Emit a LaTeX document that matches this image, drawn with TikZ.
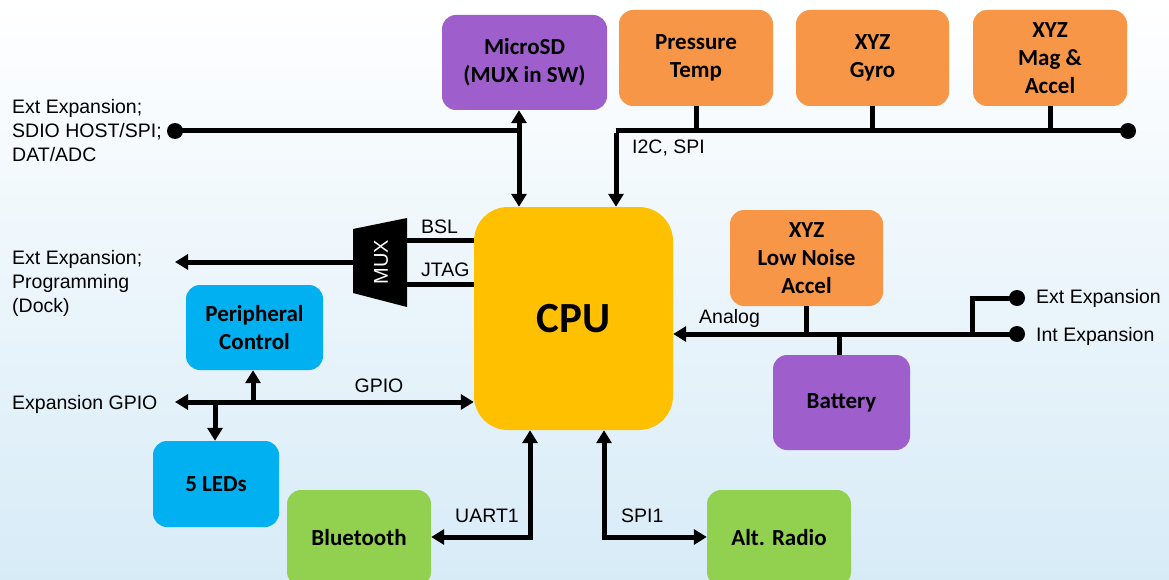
\documentclass[tikz,border=0pt]{standalone}
\usepackage{fontspec}
\setmainfont{Liberation Sans}
\newfontfamily\boxfont{Carlito}
\usetikzlibrary{arrows.meta,calc}
\definecolor{bgb}{HTML}{D7EBF7}
\definecolor{cpuc}{HTML}{FFC000}
\definecolor{orc}{HTML}{F79646}
\definecolor{puc}{HTML}{9E5FCD}
\definecolor{blc}{HTML}{00B0F0}
\definecolor{grc}{HTML}{92D050}
\begin{document}
\begin{tikzpicture}[x=1pt,y=-1pt,
  box/.style={rounded corners=14pt, align=center, inner sep=0pt,
    font=\boxfont\bfseries\fontsize{23}{28}\selectfont},
  wire/.style={line width=5pt},
  tip/.tip={Triangle[length=13pt,width=15pt]},
  arr/.style={wire,-tip},
  both/.style={wire,tip-tip},
  lab/.style={font=\fontsize{19.5}{24}\selectfont, inner sep=0pt, align=left, anchor=west},
  dot/.style={circle, fill=black, minimum size=16pt, inner sep=0pt}]
\clip (0,0) rectangle (1169,580);
\useasboundingbox (0,0) rectangle (1169,580);
\fill[top color=white, bottom color=bgb] (0,0) rectangle (1169,580);

% boxes
\node[box, fill=puc, minimum width=165pt, minimum height=95pt] (sd) at (524.5,62.5) {MicroSD\\(MUX in SW)};
\node[box, fill=orc, minimum width=154pt, minimum height=96pt] (pt) at (696,58) {Pressure\\Temp};
\node[box, fill=orc, minimum width=153pt, minimum height=96pt] (gy) at (872.5,58) {XYZ\\Gyro};
\node[box, fill=orc, minimum width=154pt, minimum height=96pt] (mag) at (1050,58) {XYZ\\Mag \&\\Accel};
\node[box, fill=cpuc, rounded corners=34pt, minimum width=199pt, minimum height=223pt,
  font=\boxfont\bfseries\fontsize{43}{46}\selectfont] (cpu) at (573.5,318.5) {CPU};
\node[box, fill=orc, minimum width=153pt, minimum height=96pt] (lna) at (806.5,258) {XYZ\\Low Noise\\Accel};
\node[box, fill=puc, minimum width=137pt, minimum height=95pt] (bat) at (841.5,402.5) {Battery};
\node[box, fill=blc, minimum width=137pt, minimum height=85pt] (per) at (254.5,327.5) {Peripheral\\Control};
\node[box, fill=blc, minimum width=126pt, minimum height=86pt] (led) at (216,484) {5 LEDs};
\node[box, fill=grc, minimum width=144pt, minimum height=96pt] (bt) at (359,538) {Bluetooth};
\node[box, fill=grc, minimum width=144pt, minimum height=96pt] (ar) at (779,538) {Alt. Radio};

% MUX
\fill (353,229) -- (407,218) -- (407,307) -- (353,293) -- cycle;
\node[rotate=90, text=white, font=\fontsize{20}{22}\selectfont] (mux) at (381,262) {MUX};
\coordinate (muxL) at (353,262);
\coordinate (bslR) at (407,240);
\coordinate (jtgR) at (407,284);
\draw[wire] (bslR) -- (bslR -| cpu.west);
\draw[wire] (jtgR) -- (jtgR -| cpu.west);
\node[lab] (bsl) at (421,227) {BSL};
\node[lab] (jtag) at (421,270) {JTAG};
\node[lab] (extp) at (12,283) {Ext Expansion;\\Programming\\(Dock)};
\coordinate (extpE) at (175,262);
\draw[arr] (muxL) -- (extpE);

% top-left bus & MicroSD
\node[dot] (dl) at (175,131) {};
\node[lab] (exts) at (12,131) {Ext Expansion;\\SDIO HOST/SPI;\\DAT/ADC};
\coordinate (sdj) at (519,131);
\draw[wire] (dl.center) -- (sdj);
\draw[both] (sd.south -| sdj) -- (cpu.north -| sdj);

% I2C bus
\coordinate (i2cj) at (616,131);
\node[dot] (dr) at (1128,131) {};
\draw[wire] (i2cj) -- (dr.center);
\draw[arr] ([yshift=-2.5pt]i2cj) -- (cpu.north -| i2cj);
\draw[wire] (pt.south) -- (pt.south |- i2cj);
\draw[wire] (gy.south) -- (gy.south |- i2cj);
\draw[wire] (mag.south) -- (mag.south |- i2cj);
\node[lab] (i2c) at (632,148) {I2C, SPI};

% Analog bus
\node[dot] (dint) at (1017,334) {};
\node[dot] (dext) at (1017,298) {};
\coordinate (extj) at (972,334);
\draw[arr] (dint.center) -- (dint.center -| cpu.east);
\draw[wire] (extj) -- (extj |- dext) -- (dext.center);
\draw[wire] (lna.south) -- (lna.south |- dint);
\coordinate (batj) at (839,334);
\draw[wire] (batj) -- (batj |- bat.north);
\node[lab] (ana) at (699,318) {Analog};
\node[lab] (exte) at (1036,298) {Ext Expansion};
\node[lab] (inte) at (1036,336) {Int Expansion};

% GPIO
\coordinate (gpl) at (175,402);
\draw[both] (gpl) -- (gpl -| cpu.west);
\coordinate (perj) at (253,402);
\coordinate (ledj) at (215,402);
\draw[arr] (perj) -- (perj |- per.south);
\draw[arr] (ledj) -- (ledj |- led.north);
\node[lab] (egp) at (12,404) {Expansion GPIO};
\node[lab, anchor=center] (gpio) at (379,386) {GPIO};

% UART1 / SPI1
\coordinate (uj) at (530,537);
\coordinate (sj) at (604,537);
\draw[both] (bt.east |- uj) -- (uj) -- (uj |- cpu.south);
\draw[both] (sj |- cpu.south) -- (sj) -- (ar.west |- sj);
\node[lab] (uart) at (455,516) {UART1};
\node[lab] (spi) at (621,516) {SPI1};
\end{tikzpicture}
\end{document}
